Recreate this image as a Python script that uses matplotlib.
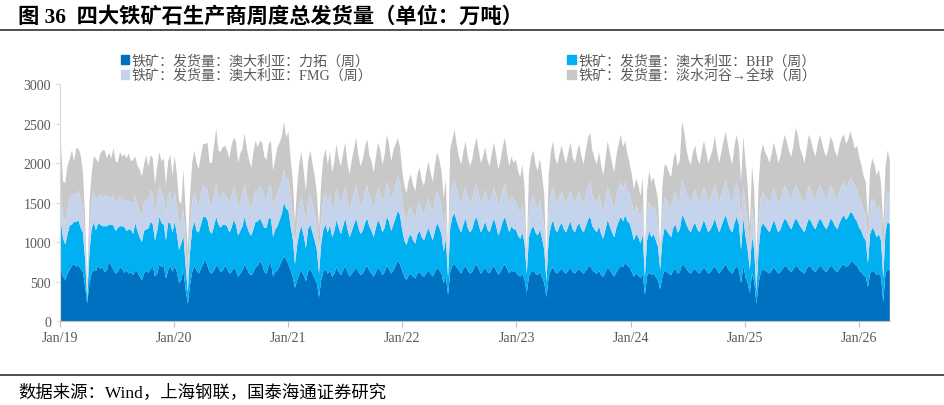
import pandas as pd
import matplotlib
matplotlib.use("Agg")
import matplotlib.pyplot as plt
import matplotlib.dates as mdates
from matplotlib.patches import Patch

plt.rcParams['font.family'] = ['Liberation Serif', 'Noto Sans CJK SC', 'DejaVu Sans']

# weekly shipments, 万吨, starting first Friday of 2019
rio = [
    # 2019
    650, 560, 520, 600, 650, 700, 720, 690, 700, 660, 620, 450, 220, 480,
    600, 650, 630, 700, 660, 680, 620, 640, 760, 700, 650, 600,
    620, 680, 660, 610, 640, 600, 620, 580, 640, 620, 560, 520, 600, 640,
    610, 660, 700, 560, 600, 720, 680, 700, 540, 640, 700, 620,
    # 2020
    700, 620, 480, 520, 640, 400, 215, 450, 620, 700, 640, 600,
    660, 720, 780, 700, 620, 600, 640, 700, 680, 620, 640, 700,
    660, 600, 620, 680, 640, 560, 600, 640, 720, 660, 600, 580, 620, 680,
    700, 760, 720, 620, 600, 700, 740, 560, 620, 640, 700, 760, 820, 780,
    # 2021
    720, 640, 560, 420, 520, 600, 640, 580, 500, 620, 660, 600,
    540, 480, 300, 520, 620, 660, 600, 640, 560, 600, 680, 620,
    580, 640, 700, 620, 560, 600, 640, 680, 620, 580, 600, 660, 700, 640,
    600, 560, 620, 680, 640, 580, 620, 700, 660, 600, 640, 700, 760, 720,
    # 2022
    640, 560, 520, 580, 600, 560, 540, 600, 620, 580, 560, 600,
    640, 600, 560, 620, 680, 640, 600, 480, 560, 330, 620, 700,
    720, 680, 640, 600, 660, 700, 640, 600, 620, 680, 720, 660, 600, 640,
    680, 620, 600, 660, 700, 640, 580, 620, 680, 720, 660, 600, 640, 620,
    # 2023
    620, 580, 560, 600, 520, 360, 560, 620, 640, 600, 580, 620,
    560, 480, 300, 560, 640, 680, 620, 600, 640, 660, 620, 600,
    640, 680, 620, 600, 640, 660, 620, 600, 640, 680, 700, 640, 620, 600,
    640, 580, 560, 620, 680, 640, 600, 560, 620, 660, 700, 680, 740, 700,
    # 2024
    680, 620, 560, 600, 580, 540, 600, 330, 560, 620, 580, 600,
    560, 520, 400, 560, 640, 620, 600, 580, 640, 660, 600, 620,
    720, 700, 660, 620, 600, 640, 660, 620, 600, 640, 680, 640, 600, 620,
    660, 700, 640, 600, 640, 680, 720, 660, 620, 600, 660, 700, 640, 480,
    # 2025
    700, 560, 480, 350, 600, 500, 215, 480, 620, 660, 640, 620,
    600, 640, 680, 640, 600, 620, 660, 700, 680, 640, 620, 660,
    700, 680, 640, 620, 600, 660, 700, 680, 640, 620, 660, 700, 680, 640,
    620, 660, 700, 680, 640, 620, 660, 700, 720, 680, 700, 740, 760, 720,
    # 2026
    700, 640, 620, 580, 560, 430, 600, 640, 620, 580, 600, 560, 240, 600, 660, 640,
]

bhp = [
    600, 480, 450, 500, 560, 520, 540, 560, 580, 520, 500, 350, 60, 380,
    560, 600, 520, 540, 560, 520, 580, 560, 460, 520, 560, 540,
    560, 520, 540, 580, 500, 560, 540, 520, 600, 520, 500, 480, 540, 520,
    560, 600, 520, 460, 540, 600, 560, 520, 480, 600, 540, 500,
    560, 480, 420, 460, 440, 300, 150, 420, 540, 560, 500, 520,
    560, 600, 540, 580, 520, 500, 560, 620, 540, 560, 580, 520,
    540, 520, 560, 600, 580, 520, 540, 560, 600, 540, 520, 500, 540, 580,
    560, 540, 520, 560, 580, 600, 560, 500, 540, 560, 580, 600, 680, 640,
    680, 560, 480, 300, 440, 520, 560, 500, 420, 540, 560, 520,
    480, 420, 300, 460, 540, 560, 520, 580, 500, 540, 600, 560,
    520, 560, 600, 540, 500, 540, 580, 620, 560, 520, 540, 580, 600, 560,
    540, 500, 560, 600, 580, 540, 560, 620, 600, 540, 580, 600, 640, 620,
    520, 460, 440, 480, 500, 460, 440, 500, 520, 480, 460, 500,
    540, 500, 460, 520, 560, 540, 500, 400, 480, 220, 560, 620,
    640, 580, 540, 520, 560, 600, 540, 520, 540, 580, 600, 560, 520, 540,
    580, 540, 520, 560, 600, 560, 500, 540, 580, 600, 560, 520, 560, 540,
    540, 500, 480, 520, 460, 240, 500, 540, 560, 520, 500, 540,
    480, 420, 200, 480, 560, 600, 540, 520, 560, 580, 540, 520,
    560, 580, 540, 520, 560, 580, 540, 520, 560, 600, 620, 560, 540, 520,
    560, 520, 480, 540, 600, 560, 520, 500, 560, 600, 620, 580, 600, 560,
    560, 520, 460, 500, 480, 440, 500, 220, 460, 520, 480, 500,
    460, 420, 250, 460, 540, 520, 500, 480, 540, 560, 520, 540,
    620, 600, 560, 540, 520, 560, 580, 540, 520, 560, 600, 560, 520, 540,
    560, 600, 560, 520, 560, 600, 620, 580, 540, 520, 580, 620, 580, 420,
    600, 520, 420, 300, 480, 400, 150, 420, 560, 580, 560, 540,
    520, 560, 600, 560, 520, 540, 580, 600, 580, 560, 540, 580,
    600, 580, 560, 540, 520, 560, 600, 580, 560, 540, 580, 600, 580, 560,
    540, 560, 600, 580, 560, 540, 580, 600, 620, 600, 620, 640, 600, 580,
    560, 540, 520, 480, 460, 300, 500, 540, 520, 480, 500, 460, 300, 520, 600, 580,
]

fmg = [
    320, 300, 280, 320, 360, 380, 360, 340, 380, 360, 330, 250, 60, 280,
    350, 380, 360, 340, 380, 360, 400, 380, 360, 340, 380, 360,
    350, 380, 360, 340, 380, 360, 340, 380, 360, 320, 340, 330, 360, 380,
    360, 400, 380, 330, 360, 400, 380, 360, 320, 360, 400, 340,
    380, 340, 300, 320, 330, 250, 200, 300, 360, 380, 360, 340,
    380, 400, 360, 380, 340, 360, 400, 420, 380, 360, 400, 380,
    360, 380, 400, 420, 380, 360, 380, 400, 420, 380, 360, 340, 380, 400,
    380, 400, 420, 380, 360, 400, 420, 360, 380, 400, 420, 400, 420, 380,
    400, 360, 320, 220, 300, 360, 380, 340, 300, 360, 380, 360,
    340, 300, 260, 320, 380, 400, 360, 380, 340, 360, 400, 380,
    360, 380, 400, 360, 340, 380, 400, 420, 380, 360, 380, 400, 420, 380,
    380, 360, 380, 420, 400, 380, 400, 440, 420, 380, 400, 420, 440, 420,
    380, 340, 320, 340, 360, 340, 320, 360, 380, 340, 330, 360,
    380, 360, 340, 380, 400, 380, 360, 300, 340, 130, 400, 420,
    420, 400, 380, 360, 380, 400, 380, 360, 380, 400, 420, 400, 380, 380,
    400, 380, 360, 380, 400, 380, 360, 380, 400, 420, 380, 360, 380, 380,
    360, 340, 320, 360, 300, 130, 340, 380, 400, 360, 340, 380,
    340, 300, 120, 340, 400, 420, 380, 360, 380, 400, 380, 360,
    380, 400, 380, 360, 380, 400, 380, 360, 400, 420, 440, 400, 380, 360,
    400, 380, 340, 380, 420, 400, 380, 360, 400, 420, 440, 400, 420, 380,
    380, 360, 340, 360, 340, 320, 360, 150, 340, 380, 360, 360,
    340, 320, 150, 340, 380, 380, 360, 360, 400, 420, 380, 400,
    440, 420, 400, 380, 380, 400, 420, 400, 380, 400, 420, 400, 380, 400,
    420, 440, 400, 380, 400, 420, 440, 420, 400, 380, 420, 440, 420, 360,
    420, 380, 320, 200, 360, 300, 200, 320, 380, 400, 380, 380,
    360, 380, 400, 380, 360, 380, 400, 420, 400, 380, 380, 400,
    420, 400, 380, 380, 360, 380, 420, 400, 380, 380, 400, 420, 400, 380,
    380, 400, 420, 400, 380, 380, 400, 420, 420, 400, 420, 440, 420, 400,
    400, 380, 360, 340, 320, 250, 340, 380, 360, 340, 360, 320, 250, 360, 380, 360,
]

vale = [
    650, 420, 500, 550, 480, 560, 400, 600, 520, 560, 450, 300, 140, 350,
    350, 450, 550, 420, 520, 600, 560, 480, 550, 500, 600, 520,
    480, 560, 520, 580, 540, 600, 520, 560, 480, 500, 520, 500, 480, 560,
    420, 440, 460, 380, 460, 420, 400, 480, 380, 420, 460, 380,
    450, 420, 320, 180, 500, 450, 330, 420, 480, 520, 500, 460,
    500, 520, 560, 600, 520, 540, 620, 700, 560, 600, 580, 620,
    600, 560, 640, 620, 680, 560, 600, 580, 640, 600, 560, 520, 600, 620,
    560, 580, 600, 520, 500, 540, 560, 480, 520, 600, 560, 580, 600, 520,
    600, 500, 420, 300, 450, 520, 560, 480, 420, 500, 560, 520,
    480, 420, 320, 460, 520, 560, 500, 540, 480, 520, 560, 500,
    500, 540, 560, 480, 460, 520, 560, 600, 540, 500, 520, 560, 580, 520,
    500, 460, 520, 560, 540, 480, 520, 600, 560, 500, 540, 520, 480, 440,
    380, 360, 340, 380, 400, 360, 340, 400, 420, 380, 360, 420,
    460, 420, 400, 460, 500, 480, 440, 380, 420, 140, 600, 560,
    640, 560, 520, 500, 540, 580, 520, 480, 500, 540, 580, 540, 500, 520,
    540, 500, 480, 520, 560, 520, 480, 500, 540, 580, 520, 480, 500, 460,
    520, 480, 460, 500, 400, 120, 480, 540, 560, 500, 480, 520,
    460, 400, 130, 460, 540, 580, 520, 500, 540, 580, 540, 520,
    560, 600, 540, 520, 560, 600, 540, 500, 560, 620, 620, 560, 520, 500,
    540, 500, 460, 520, 580, 540, 500, 460, 520, 560, 600, 540, 520, 480,
    380, 360, 300, 340, 320, 280, 360, 150, 300, 380, 340, 360,
    320, 280, 130, 340, 420, 440, 420, 400, 460, 500, 460, 480,
    740, 680, 560, 500, 480, 540, 560, 500, 480, 540, 580, 540, 500, 520,
    540, 600, 540, 500, 540, 580, 620, 560, 520, 480, 560, 600, 560, 500,
    620, 560, 500, 350, 520, 460, 200, 500, 560, 600, 560, 540,
    520, 540, 580, 560, 520, 540, 600, 640, 600, 560, 540, 600,
    730, 680, 600, 560, 520, 580, 640, 620, 580, 540, 600, 640, 600, 560,
    540, 580, 620, 600, 560, 540, 580, 600, 600, 560, 560, 580, 520, 480,
    560, 520, 480, 440, 420, 300, 460, 500, 480, 440, 460, 400, 420, 460, 520, 460,
]

labels = ['铁矿：发货量：澳大利亚：力拓（周）', '铁矿：发货量：澳大利亚：BHP（周）',
          '铁矿：发货量：澳大利亚：FMG（周）', '铁矿：发货量：淡水河谷→全球（周）']
colors = ['#0070C0', '#00B0F0', '#C5D4EC', '#C8C8C8']
yticks = [0, 500, 1000, 1500, 2000, 2500, 3000]

dates = pd.date_range('2019-01-04', periods=len(rio), freq='7D')

fig = plt.figure(figsize=(9.44, 4.06), dpi=100)
ax = fig.add_axes([0.0636, 0.2069, 0.879, 0.5837])
ax.stackplot(dates, rio, bhp, fmg, vale, colors=colors, linewidth=0)

ax.set_ylim(0, 3000)
ax.set_yticks(yticks)
ax.set_xlim(pd.Timestamp('2019-01-01'), dates[-1])
ax.xaxis.set_major_locator(mdates.YearLocator())
ax.xaxis.set_major_formatter(mdates.DateFormatter('%b/%y'))
ax.tick_params(axis='both', colors='#595959', labelsize=10, length=4, width=0.8)
ax.tick_params(axis='x', color='#BFBFBF')
ax.tick_params(axis='y', color='#D9D9D9', length=3)
for s in ['top', 'right']:
    ax.spines[s].set_visible(False)
ax.spines['left'].set_color('#D9D9D9')
ax.spines['bottom'].set_color('#BFBFBF')

# legend in two columns
kw = dict(frameon=False, fontsize=10.1, labelcolor='#595959', handlelength=0.6,
          handleheight=0.6, handletextpad=0.2, labelspacing=0.05, borderaxespad=0)
h = [Patch(color=c) for c in colors]
fig.legend([h[0], h[2]], [labels[0], labels[2]], loc='upper left',
           bbox_to_anchor=(0.122, 0.878), **kw)
fig.legend([h[1], h[3]], [labels[1], labels[3]], loc='upper left',
           bbox_to_anchor=(0.595, 0.878), **kw)

fig.text(0.019, 0.956, '图 36  四大铁矿石生产商周度总发货量（单位：万吨）',
         fontsize=15.3, fontweight='bold', va='center', ha='left', color='black')
fig.add_artist(plt.Line2D([0, 1], [0.924, 0.924], color='#404040', lw=1.3))
fig.add_artist(plt.Line2D([0, 1], [0.074, 0.074], color='#404040', lw=1.3))
fig.text(0.019, 0.032, '数据来源：Wind，上海钢联，国泰海通证券研究',
         fontsize=12.5, va='center', ha='left', color='black')

fig.savefig('out.png', dpi=100)
